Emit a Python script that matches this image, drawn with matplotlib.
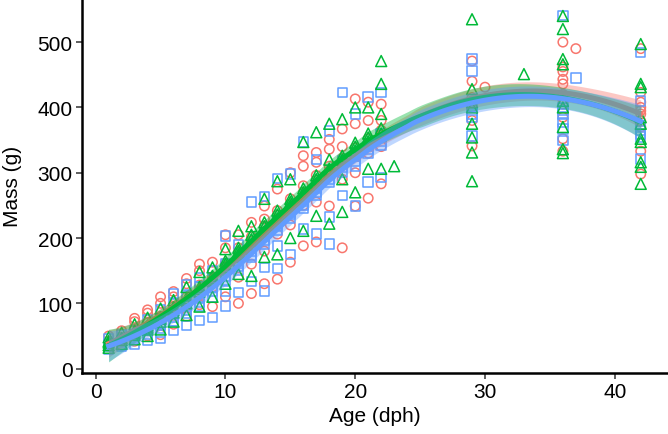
import numpy as np
import matplotlib
matplotlib.use("Agg")
import matplotlib.pyplot as plt

plt.rcParams['font.family'] = ['Liberation Sans', 'DejaVu Sans']

# ---- data: mass (g) by age (dph) for three groups ----
red_mass = {
    1: [35, 37, 40, 42, 50], 2: [36, 42, 45, 48, 58], 3: [42, 50, 54, 60, 72, 77],
    4: [50, 58, 63, 70, 85, 90], 5: [52, 68, 74, 80, 100, 110],
    6: [68, 82, 88, 95, 110, 118], 7: [80, 96, 103, 110, 130, 138],
    8: [98, 112, 120, 128, 150, 160], 9: [95, 125, 134, 140, 150, 163],
    10: [110, 150, 156, 162, 185, 205], 11: [100, 140, 170, 178, 185, 205],
    12: [115, 160, 188, 195, 202, 224], 13: [130, 180, 210, 218, 229, 249],
    14: [137, 206, 228, 235, 242, 275], 15: [163, 220, 245, 252, 260, 300],
    16: [188, 250, 262, 270, 280, 310, 326], 17: [194, 255, 280, 288, 296, 316, 331],
    18: [249, 295, 303, 310, 336, 351], 19: [185, 290, 315, 322, 340, 367],
    20: [249, 300, 330, 338, 375, 413], 21: [261, 330, 345, 352, 380, 408],
    22: [283, 340, 358, 365, 380, 405],
    29: [341, 380, 400, 410, 415, 440, 471], 30: [431],
    36: [333, 352, 385, 405, 412, 420, 436, 443, 455, 462, 500], 37: [490],
    42: [298, 333, 370, 379, 390, 395, 400, 408, 423, 490],
}
blue_mass = {
    1: [30, 34, 37, 38, 46], 2: [35, 40, 43, 52], 3: [38, 47, 50, 58],
    4: [44, 52, 58, 62, 75], 5: [47, 55, 66, 70, 90], 6: [58, 72, 78, 84, 100, 115],
    7: [66, 85, 90, 96, 112, 128], 8: [74, 95, 102, 108, 125, 140],
    9: [78, 110, 118, 124, 150], 10: [96, 119, 136, 142, 160, 203],
    11: [117, 150, 156, 162, 190], 12: [133, 170, 174, 180, 255],
    13: [119, 155, 190, 196, 202, 264], 14: [153, 188, 212, 218, 225, 291],
    15: [175, 230, 236, 240, 298], 16: [214, 245, 250, 256, 347],
    17: [206, 266, 270, 276, 320], 18: [191, 232, 285, 290, 364],
    19: [265, 300, 308, 318, 423], 20: [249, 310, 318, 325, 390],
    21: [286, 330, 336, 340, 416], 22: [293, 342, 348, 360, 423],
    29: [356, 385, 390, 395, 402, 456, 474],
    36: [349, 367, 377, 390, 395, 400, 541], 37: [445],
    42: [321, 355, 359, 365, 372, 410, 484],
}
green_mass = {
    1: [32, 36, 40, 42, 48], 2: [38, 44, 47, 55], 3: [45, 52, 55, 58, 68],
    4: [50, 60, 63, 66, 78], 5: [60, 72, 76, 78, 92], 6: [72, 86, 90, 94, 105],
    7: [82, 100, 105, 108, 125], 8: [95, 118, 122, 125, 148],
    9: [110, 135, 138, 142, 155], 10: [130, 155, 160, 165, 183],
    11: [145, 175, 180, 185, 211], 12: [142, 190, 198, 205, 218],
    13: [171, 210, 218, 224, 260], 14: [175, 230, 236, 242, 287],
    15: [200, 250, 255, 260, 290], 16: [211, 266, 270, 276, 347],
    17: [234, 284, 290, 296, 362], 18: [222, 300, 306, 320, 375],
    19: [240, 290, 320, 326, 382], 20: [270, 334, 340, 346, 400],
    21: [306, 348, 354, 360, 400], 22: [306, 360, 368, 390, 436, 471], 23: [310],
    29: [287, 331, 354, 375, 400, 408, 428, 535], 33: [451],
    36: [330, 336, 370, 400, 410, 466, 474, 520, 540],
    42: [283, 309, 316, 347, 352, 375, 385, 431, 436, 497],
}

groups = [
    ("red", red_mass, "#F8766D", "o", 46),
    ("green", green_mass, "#00BA38", "^", 62),
    ("blue", blue_mass, "#619CFF", "s", 46),
]


def flatten(d):
    xs, ys = [], []
    for a, vals in d.items():
        xs += [a] * len(vals)
        ys += vals
    return np.array(xs, float), np.array(ys, float)


def loess_weights(x, x0, span=0.75):
    n = len(x)
    q = int(np.floor(n * span))
    d = np.abs(x - x0)
    h = max(np.sort(d)[q - 1], 1e-9)
    w = np.clip(1 - (d / h) ** 3, 0, None) ** 3
    X = np.column_stack([np.ones(n), x - x0, (x - x0) ** 2])
    XtW = X.T * w
    A = np.linalg.solve(XtW @ X, XtW)
    return A[0]


def loess(x, y, xg, span=0.75):
    L = np.array([loess_weights(x, xi, span) for xi in x])
    R = np.eye(len(x)) - L
    delta1 = np.trace(R.T @ R)
    resid = y - L @ y
    sigma = np.sqrt(resid @ resid / delta1)
    Lg = np.array([loess_weights(x, xi, span) for xi in xg])
    fit = Lg @ y
    se = sigma * np.sqrt((Lg ** 2).sum(axis=1))
    return fit, se


fig = plt.figure(figsize=(6.68, 4.35), dpi=100)
ax = fig.add_axes([82.3 / 668, 61.3 / 435, 1 - 82.3 / 668, 1 - 61.3 / 435])

# points
for name, d, col, mk, sz in [groups[0], groups[2], groups[1]]:
    x, y = flatten(d)
    ax.scatter(x, y, s=sz, marker=mk, facecolors='none', edgecolors=col,
               linewidths=1.1, zorder=2)

# loess smooths with 95% bands
for name, d, col, mk, sz in groups:
    x, y = flatten(d)
    xg = np.linspace(x.min(), x.max(), 120)
    fit, se = loess(x, y, xg)
    ax.fill_between(xg, fit - 1.97 * se, fit + 1.97 * se, color=col,
                    alpha=0.4, linewidth=0, zorder=3)
    ax.plot(xg, fit, color=col, linewidth=3.6, zorder=3)

ax.set_xlim(-1.03, 44.1)
ax.set_ylim(-6.2, 566)
ax.set_xticks([0, 10, 20, 30, 40])
ax.set_yticks([0, 100, 200, 300, 400, 500])
for s in ['top', 'right']:
    ax.spines[s].set_visible(False)
for s in ['left', 'bottom']:
    ax.spines[s].set_linewidth(1.8)
    ax.spines[s].set_color('black')
ax.tick_params(axis='both', length=4.5, width=1.1, color='#333333',
               labelsize=15, labelcolor='black', pad=2.5)
ax.set_xlabel("Age (dph)", fontsize=15)
ax.set_ylabel("Mass (g)", fontsize=15)
ax.xaxis.set_label_coords(0.5, -0.088)
ax.yaxis.set_label_coords(-0.103, 0.5)

fig.savefig("out.png", dpi=100)
